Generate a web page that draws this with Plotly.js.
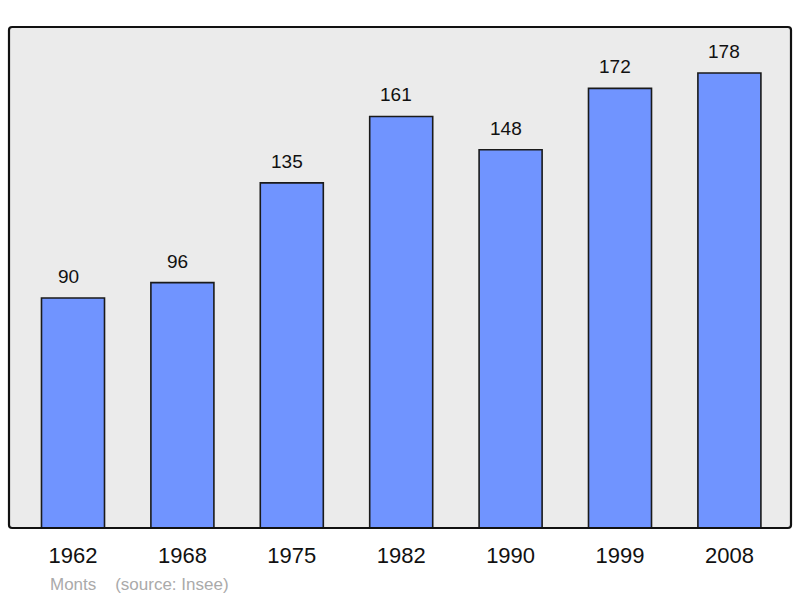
<!DOCTYPE html>
<html><head><meta charset="utf-8">
<script src="https://cdn.plot.ly/plotly-3.0.1.min.js"></script>
<style>body{margin:0;background:#fff}#c{width:800px;height:598px}</style>
</head><body><div id="c"></div>
<script>
const years = ["1962","1968","1975","1982","1990","1999","2008"];
const population = [90,96,135,161,148,172,178];
const sourceText = "Monts    (source: Insee)";

const trace = {
  type: "bar", x: years, y: population, width: 0.576,
  marker: {color: "#7094ff", line: {color: "#1a1a1a", width: 1.6}},
  hoverinfo: "none"
};
const annotations = years.map((yr, i) => ({
  x: i, y: population[i], xref: "x", yref: "y", text: String(population[i]),
  showarrow: false, yanchor: "bottom", yshift: 9, xshift: -5,
  font: {family: "Liberation Sans, Arial, sans-serif", size: 19, color: "#111"}
}));
annotations.push({
  xref: "paper", yref: "paper", x: 0.05, y: -0.112, xanchor: "left", yanchor: "middle",
  text: sourceText.replace(/ /g, "&nbsp;"), showarrow: false,
  font: {family: "Liberation Sans, Arial, sans-serif", size: 17, color: "#aaaaaa"}
});
const rx = 0.004, ry = 0.006;
const framePath = `M ${rx},0 L ${1-rx},0 Q 1,0 1,${ry} L 1,${1-ry} Q 1,1 ${1-rx},1 L ${rx},1 Q 0,1 0,${1-ry} L 0,${ry} Q 0,0 ${rx},0 Z`;
const layout = {
  width: 800, height: 598,
  margin: {l: 9, r: 9, t: 27, b: 70},
  paper_bgcolor: "#ffffff", plot_bgcolor: "#ffffff",
  showlegend: false,
  xaxis: {type: "category", range: [-0.585, 6.563], showgrid: false, zeroline: false,
          ticks: "", showline: false, ticklabelstandoff: 12,
          tickfont: {family: "Liberation Sans, Arial, sans-serif", size: 22, color: "#111"}},
  yaxis: {range: [0, 196], showgrid: false, zeroline: false, showticklabels: false, ticks: "", showline: false},
  annotations: annotations,
  shapes: [
    {type: "path", xref: "paper", yref: "paper", path: framePath, layer: "below",
     fillcolor: "#ebebeb", line: {width: 0}},
    {type: "path", xref: "paper", yref: "paper", path: framePath, layer: "above",
     line: {color: "#111", width: 2.2}}
  ]
};
Plotly.newPlot("c", [trace], layout, {displayModeBar: false, staticPlot: true});
</script></body></html>
